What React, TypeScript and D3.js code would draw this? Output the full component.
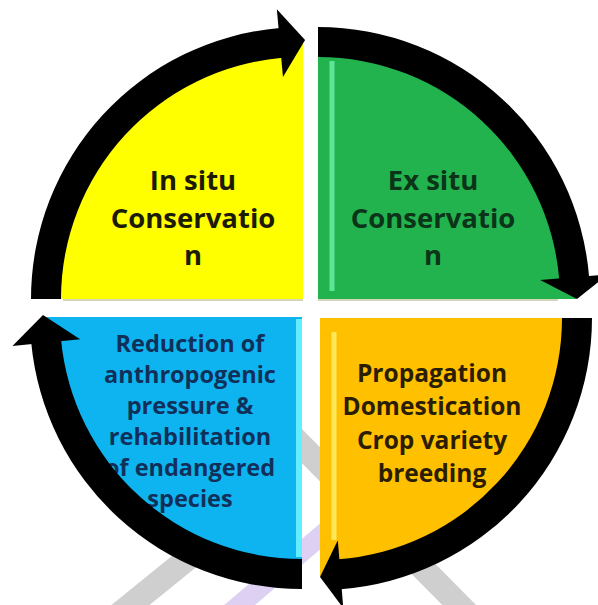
import { useEffect, useRef } from 'react';
import * as d3 from 'd3';

// quadrant order: clockwise from top-left
const quadrantNames = ['In situ', 'Ex situ', 'Propagation', 'Reduction'];
const labelLines = [
  ['In situ', 'Conservatio', 'n'],
  ['Ex situ', 'Conservatio', 'n'],
  ['Propagation', 'Domestication', 'Crop variety', 'breeding'],
  ['Reduction of', 'anthropogenic', 'pressure &', 'rehabilitation', 'of endangered', 'species'],
];
const fillColors = ['#ffff00', '#22b24e', '#ffc000', '#0db4ef'];
const textColors = ['#1c1c05', '#0b3418', '#2a1d02', '#10305a'];
const highlightColors = ['#ffff66', '#5fe597', '#ffe75a', '#62eeff'];

const W = 598;
const H = 605;

export default function App() {
  const svgRef = useRef<SVGSVGElement>(null);

  useEffect(() => {
    if (!svgRef.current) return;
    const svg = d3.select(svgRef.current);
    svg.selectAll('*').remove();

    const PI = Math.PI;
    // corners of the four quarter discs
    const corners: [number, number][] = [
      [303, 299],
      [318, 299],
      [320, 318],
      [302, 317],
    ];
    const startAngles = [-PI / 2, 0, PI / 2, PI];
    const rFill = 258;
    const rIn = 242;
    const rOut = 272;
    const rMid = (rIn + rOut) / 2;
    const headHalf = 34;
    const headLen = [0.09, 0.085, 0.08, 0.1];
    const tipOver = [0.008, 0, 0, 0.008];

    // label layout: offset of text block centre x and first baseline from corner
    const labelLayout = [
      { dx: -110, dy: -109, size: 27.5, step: 37.5 },
      { dx: 115, dy: -109, size: 27.5, step: 37.5 },
      { dx: 112, dy: 64, size: 24.5, step: 33.3 },
      { dx: -112, dy: 35, size: 23.5, step: 31 },
    ];

    const polar = (c: [number, number], r: number, a: number): [number, number] => [
      c[0] + r * Math.sin(a),
      c[1] - r * Math.cos(a),
    ];

    // watermark strokes behind the diagram
    const wm = svg.append('g').attr('fill', 'none').attr('stroke-linecap', 'butt');
    const wmLine = d3.line();
    wm.append('path')
      .attr('d', wmLine([[112, 620], [260, 500]]))
      .attr('stroke', '#cfcfcf')
      .attr('stroke-width', 24);
    wm.append('path')
      .attr('d', wmLine([[222, 620], [330, 528]]))
      .attr('stroke', '#ddd0f2')
      .attr('stroke-width', 20);
    wm.append('path')
      .attr('d', wmLine([[288, 432], [476, 622]]))
      .attr('stroke', '#cfcfcf')
      .attr('stroke-width', 24);

    const arc = d3.arc<any>();

    quadrantNames.forEach((name, i) => {
      const c = corners[i];
      const a0 = startAngles[i];
      const a1 = a0 + PI / 2;
      const g = svg.append('g').attr('class', `q-${name}`);

      // quarter disc
      g.append('path')
        .attr('transform', `translate(${c[0]},${c[1]})`)
        .attr('d', arc({ innerRadius: 0, outerRadius: rFill, startAngle: a0, endAngle: a1 }))
        .attr('fill', fillColors[i]);

      // bevel highlight strip
      if (i === 1 || i === 2) {
        const x = c[0] + 14;
        const y0 = i === 1 ? c[1] - 238 : c[1] + 14;
        const y1 = i === 1 ? c[1] - 8 : c[1] + 222;
        g.append('line')
          .attr('x1', x).attr('x2', x).attr('y1', y0).attr('y2', y1)
          .attr('stroke', highlightColors[i]).attr('stroke-width', 5);
      }
      if (i === 3) {
        g.append('rect')
          .attr('x', c[0] - 6).attr('y', c[1] + 2)
          .attr('width', 6).attr('height', 238)
          .attr('fill', highlightColors[i]);
      }
      if (i === 0 || i === 1) {
        g.append('line')
          .attr('x1', i === 0 ? c[0] - 240 : c[0])
          .attr('x2', i === 0 ? c[0] : c[0] + 240)
          .attr('y1', c[1] + 1).attr('y2', c[1] + 1)
          .attr('stroke', '#b9b98a').attr('stroke-width', 2).attr('opacity', 0.6);
      }

      // label
      const L = labelLayout[i];
      const t = g.append('text')
        .attr('text-anchor', 'middle')
        .attr('font-family', '"Open Sans", sans-serif')
        .attr('font-weight', 700)
        .attr('font-size', L.size)
        .attr('fill', textColors[i]);
      labelLines[i].forEach((line, k) => {
        t.append('tspan')
          .attr('x', c[0] + L.dx)
          .attr('y', c[1] + L.dy + k * L.step)
          .text(line);
      });

      // black arrow band
      const headBase = a1 - headLen[i];
      g.append('path')
        .attr('transform', `translate(${c[0]},${c[1]})`)
        .attr('d', arc({ innerRadius: rIn, outerRadius: rOut, startAngle: a0, endAngle: headBase + 0.005 }))
        .attr('fill', '#000');
      const p1 = polar(c, rMid - headHalf, headBase);
      const p2 = polar(c, rMid + headHalf, headBase);
      const tip = polar(c, rMid + 2, a1 + tipOver[i]);
      g.append('path')
        .attr('d', d3.line()([p1, p2, tip]) + 'Z')
        .attr('fill', '#000');
    });
  }, []);

  return (
    <svg
      ref={svgRef}
      width={W}
      height={H}
      style={{ position: 'absolute', left: 0, top: 0, background: '#fff' }}
    />
  );
}
